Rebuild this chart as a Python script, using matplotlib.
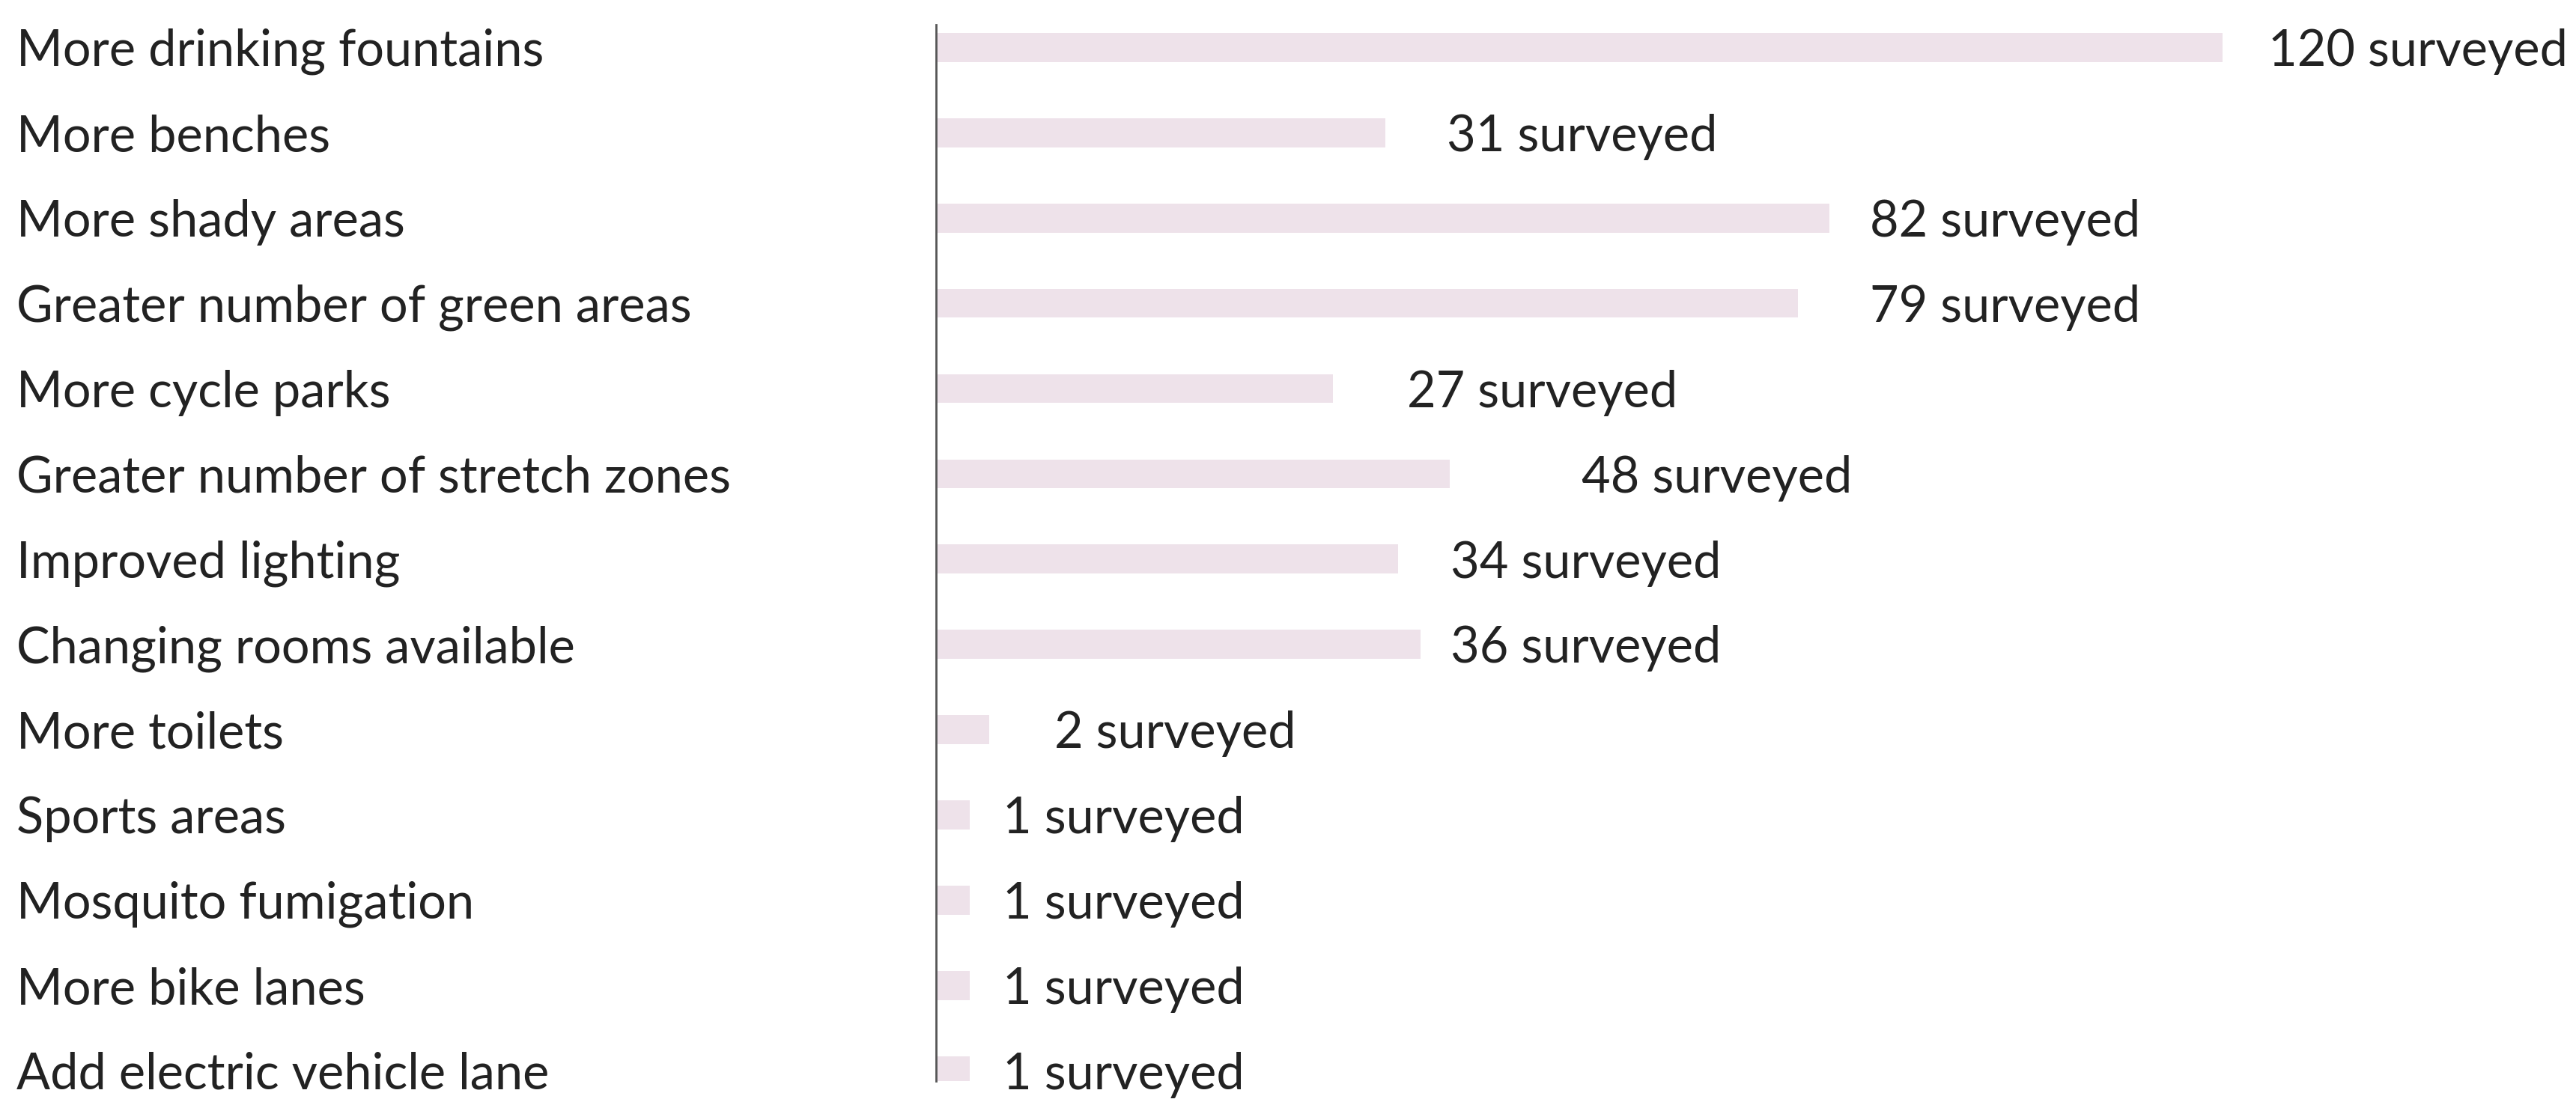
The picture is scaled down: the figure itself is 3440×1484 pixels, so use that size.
import matplotlib
matplotlib.use("Agg")
import matplotlib.pyplot as plt
import matplotlib.transforms as mtransforms

categories = ["More drinking fountains", "More benches", "More shady areas",
              "Greater number of green areas", "More cycle parks",
              "Greater number of stretch zones", "Improved lighting",
              "Changing rooms available", "More toilets", "Sports areas",
              "Mosquito fumigation", "More bike lanes", "Add electric vehicle lane"]
counts = [120, 31, 82, 79, 27, 48, 34, 36, 2, 1, 1, 1, 1]
# bar lengths as drawn in the reference (not proportional to counts)
bar_lengths = [120, 41.9, 83.3, 80.4, 37.0, 47.9, 43.1, 45.2, 4.9, 3.1, 3.1, 3.1, 3.1]
label_gap = [4.3, 5.7, 3.8, 6.7, 6.9, 12.3, 4.9, 2.8, 6.1, 3.1, 3.1, 3.1, 3.1]

plt.rcParams['font.family'] = ['Lato', 'DejaVu Sans']
fig = plt.figure(figsize=(34.4, 14.84), dpi=100)
ax = fig.add_axes([0.3635, 0.027, 0.6365, 0.951])
y = list(range(len(categories)))
ax.barh(y, bar_lengths, height=0.34, color="#EEE2EA")
for i in y:
    ax.text(bar_lengths[i] + label_gap[i], i + 0.05, f"{counts[i]} surveyed",
            va="center", ha="left", fontsize=48, color="#222222")
tr = mtransforms.blended_transform_factory(fig.transFigure, ax.transData)
for i, c in enumerate(categories):
    ax.text(0.0064, i + 0.05, c, transform=tr, va="center", ha="left", fontsize=48, color="#222222")
ax.set_xlim(0, 153)
ax.set_ylim(12.12, -0.27)
for s in ["top", "right", "bottom"]:
    ax.spines[s].set_visible(False)
ax.spines["left"].set_color("#555555")
ax.spines["left"].set_linewidth(2)
ax.set_xticks([]); ax.set_yticks([])
fig.savefig("out.png", dpi=100)
